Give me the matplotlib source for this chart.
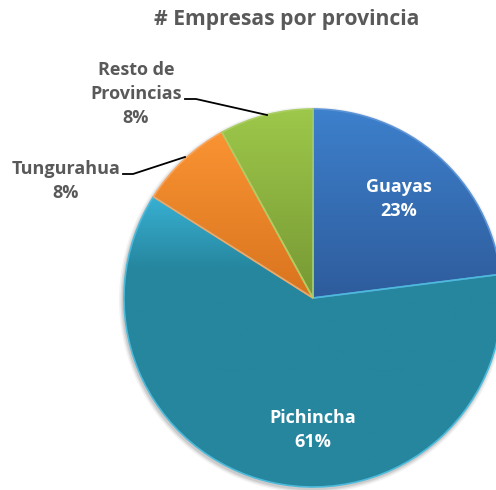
import matplotlib.pyplot as plt
import numpy as np
from matplotlib.colors import LinearSegmentedColormap

# data
provincias = ["Guayas", "Pichincha", "Tungurahua", "Resto de\nProvincias"]
porcentajes = [23, 61, 8, 8]

# vertical gradient per slice (top, bottom), where the bottom colour is reached, edge colour
color_top = ["#3d80cc", "#38b0d3", "#f99332", "#9dc84a"]
color_bot = ["#2e5c9c", "#26869e", "#d9741f", "#779834"]
grad_stop = [1.0, 0.25, 1.0, 1.0]
color_edge = ["#5b93d6", "#4cbadb", "#fba45a", "#a9cf62"]

plt.rcParams['font.family'] = ['Open Sans', 'DejaVu Sans']

fig = plt.figure(figsize=(4.96, 4.90), dpi=100)
ax = fig.add_axes([0, 0, 1, 1])

cx, cy, r = 313, 490 - 298, 189

# soft shadow behind the pie
for k, a in [(4, 0.05), (2.5, 0.07), (1.2, 0.09)]:
    ax.add_patch(plt.Circle((cx - 1, cy - 2), r + k, color='black', alpha=a, lw=0, zorder=0))

wedges, _ = ax.pie(porcentajes, startangle=90, counterclock=False, center=(cx, cy),
                   radius=r, colors=color_bot, frame=True,
                   wedgeprops=dict(linewidth=1.2, zorder=2))
ax.set_xlim(0, 496)
ax.set_ylim(0, 490)
ax.set_aspect('equal')
ax.axis('off')

for w, top, bot, stop, ec in zip(wedges, color_top, color_bot, grad_stop, color_edge):
    w.set_edgecolor(ec)
    ext = w.get_path().get_extents(w.get_transform() - ax.transData)
    cmap = LinearSegmentedColormap.from_list("g", [(0, top), (stop, bot), (1, bot)])
    grad = np.linspace(0, 1, 256).reshape(-1, 1)
    im = ax.imshow(grad, cmap=cmap, aspect='auto', origin='upper',
                   extent=[ext.x0, ext.x1, ext.y0, ext.y1], zorder=1.5)
    im.set_clip_path(w)
    w.set_facecolor('none')

ax.text(287, 490 - 20, "# Empresas por provincia", ha='center', va='center',
        fontsize=15.2, fontweight='bold', color='#595959')

# labels inside
ax.text(399, 490 - 199, "Guayas\n23%", ha='center', va='center', fontsize=13,
        fontweight='bold', color='white', linespacing=1.4, zorder=5)
ax.text(313, 490 - 430, "Pichincha\n61%", ha='center', va='center', fontsize=13,
        fontweight='bold', color='white', linespacing=1.4, zorder=5)

# labels outside with leader lines
ax.text(66, 490 - 181, "Tungurahua\n8%", ha='center', va='center', fontsize=13,
        fontweight='bold', color='#595959', linespacing=1.4)
ax.text(136, 490 - 94, "Resto de\nProvincias\n8%", ha='center', va='center', fontsize=13,
        fontweight='bold', color='#595959', linespacing=1.4)
ax.plot([123, 133, 185], [490 - 174, 490 - 174, 490 - 157], color='black', lw=1.3, zorder=6)
ax.plot([185, 196, 267], [490 - 99, 490 - 99, 490 - 115], color='black', lw=1.3, zorder=6)

fig.savefig("out.png", dpi=100)
